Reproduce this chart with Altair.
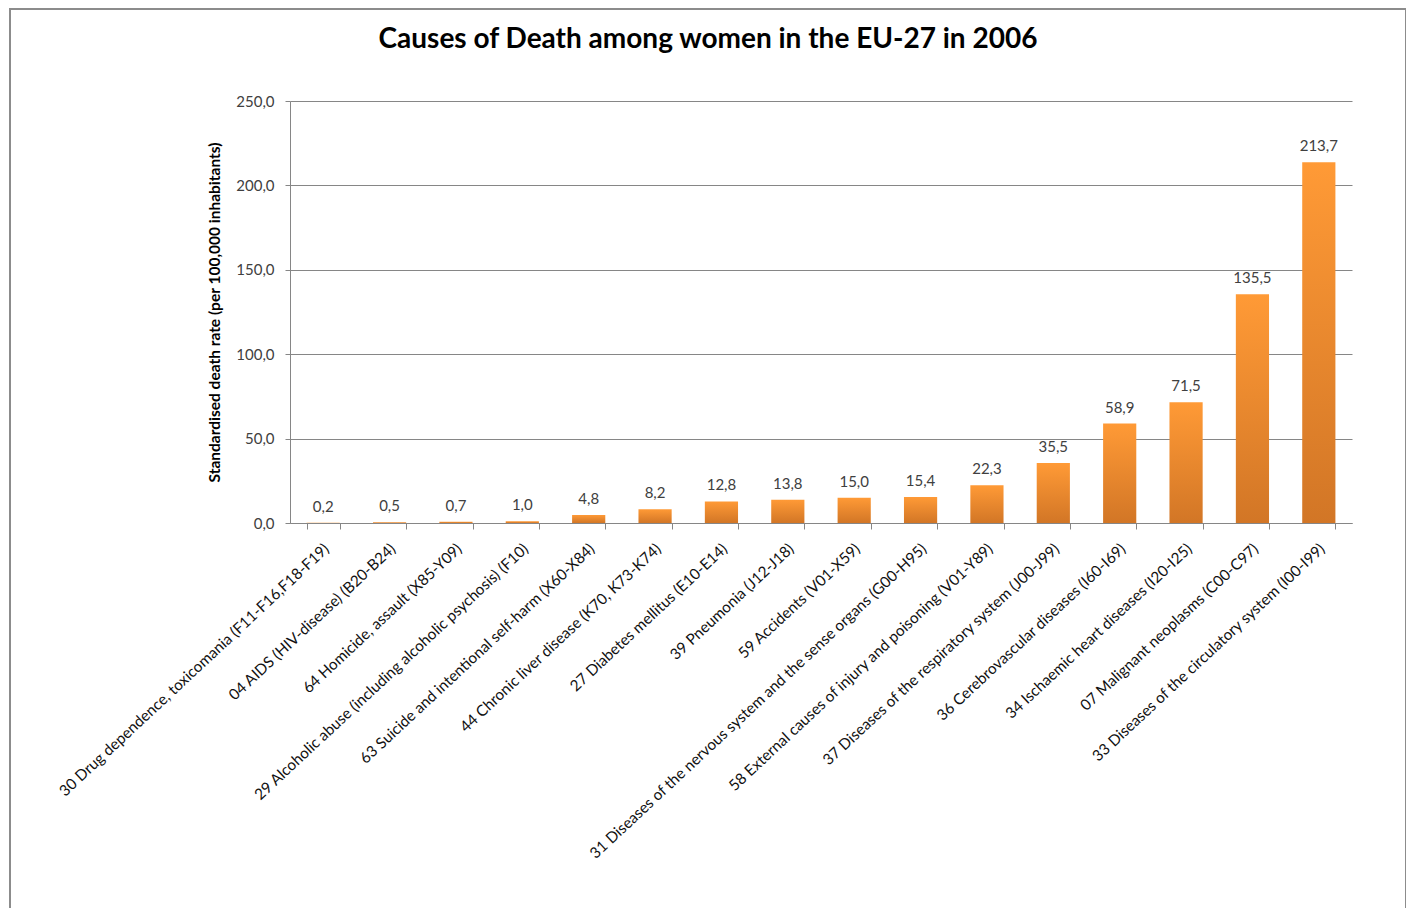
import altair as alt
import pandas as pd

causes = [
    "30 Drug dependence, toxicomania (F11-F16,F18-F19)",
    "04 AIDS (HIV-disease) (B20-B24)",
    "64 Homicide, assault (X85-Y09)",
    "29 Alcoholic abuse (including alcoholic psychosis) (F10)",
    "63 Suicide and intentional self-harm (X60-X84)",
    "44 Chronic liver disease (K70, K73-K74)",
    "27 Diabetes mellitus (E10-E14)",
    "39 Pneumonia (J12-J18)",
    "59 Accidents (V01-X59)",
    "31 Diseases of the nervous system and the sense organs (G00-H95)",
    "58 External causes of injury and poisoning (V01-Y89)",
    "37 Diseases of the respiratory system (J00-J99)",
    "36 Cerebrovascular diseases (I60-I69)",
    "34 Ischaemic heart diseases (I20-I25)",
    "07 Malignant neoplasms (C00-C97)",
    "33 Diseases of the circulatory system (I00-I99)",
]
rates = [0.2, 0.5, 0.7, 1.0, 4.8, 8.2, 12.8, 13.8, 15.0, 15.4, 22.3, 35.5, 58.9, 71.5, 135.5, 213.7]
y_ticks = [0, 50, 100, 150, 200, 250]

TITLE = "Causes of Death among women in the EU-27 in 2006"
Y_TITLE = "Standardised death rate (per 100,000 inhabitants)"

FONT = "Lato"
GRID = "#868686"

df = pd.DataFrame({"cause": causes, "rate": rates})

grad = alt.Gradient(
    gradient="linear",
    stops=[alt.GradientStop(color="#FF9A36", offset=0), alt.GradientStop(color="#D27626", offset=1)],
    x1=0, x2=0, y1=0, y2=1,
)

x_enc = alt.X(
    "cause:N",
    sort=causes,
    scale=alt.Scale(paddingInner=0.5, paddingOuter=0.25),
    axis=alt.Axis(
        title=None, labelAngle=-43, labelAlign="right", labelBaseline="middle",
        labelFont=FONT, labelFontSize=15.3, labelColor="#111111", labelLimit=800,
        labelOverlap=False, labelPadding=17, labelOffset=3, tickBand="extent", tickSize=6,
        tickColor=GRID, domainColor=GRID, grid=False,
    ),
)
y_enc = alt.Y(
    "rate:Q",
    scale=alt.Scale(domain=[0, 250], nice=False),
    axis=alt.Axis(
        values=y_ticks,
        labelExpr="replace(format(datum.value, '.1f'), '.', ',')",
        title=Y_TITLE, titleFont=FONT, titleFontWeight="bold", titleFontSize=15.5,
        titleColor="#000000", titleX=-76, titleY=211, titleAngle=-90,
        titleAlign="center", titleBaseline="middle",
        labelFont=FONT, labelFontSize=15, labelColor="#404040", labelPadding=11,
        tickSize=5, tickColor=GRID, domainColor=GRID, gridColor=GRID, gridWidth=1,
    ),
)

base = alt.Chart(df)
bars = base.mark_bar(color=grad).encode(x=x_enc, y=y_enc)
labels = base.transform_calculate(
    label="replace(format(datum.rate, '.1f'), '.', ',')"
).mark_text(
    baseline="alphabetic", dy=-11, font=FONT, fontSize=15, color="#404040"
).encode(x=alt.X("cause:N", sort=causes), y="rate:Q", text="label:N")

frame = alt.Chart(pd.DataFrame({"k": [0]})).mark_rect(
    fillOpacity=0, stroke="#8c8c8c", strokeWidth=2
).encode(x=alt.value(-280), x2=alt.value(1116), y=alt.value(-92), y2=alt.value(840))

chart = alt.layer(frame, bars, labels).properties(
    width=1062,
    height=422,
    title=alt.TitleParams(
        TITLE, font=FONT, fontSize=28, fontWeight="bold", color="#000000",
        anchor="middle", baseline="alphabetic", offset=0, dx=-113, dy=68,
    ),
    autosize=alt.AutoSizeParams(type="none"),
    padding={"left": 282, "top": 93, "right": 54, "bottom": 385},
    background="white",
).configure_view(stroke=None)

chart.save("out.html", embed_options={"renderer": "svg", "actions": False})
